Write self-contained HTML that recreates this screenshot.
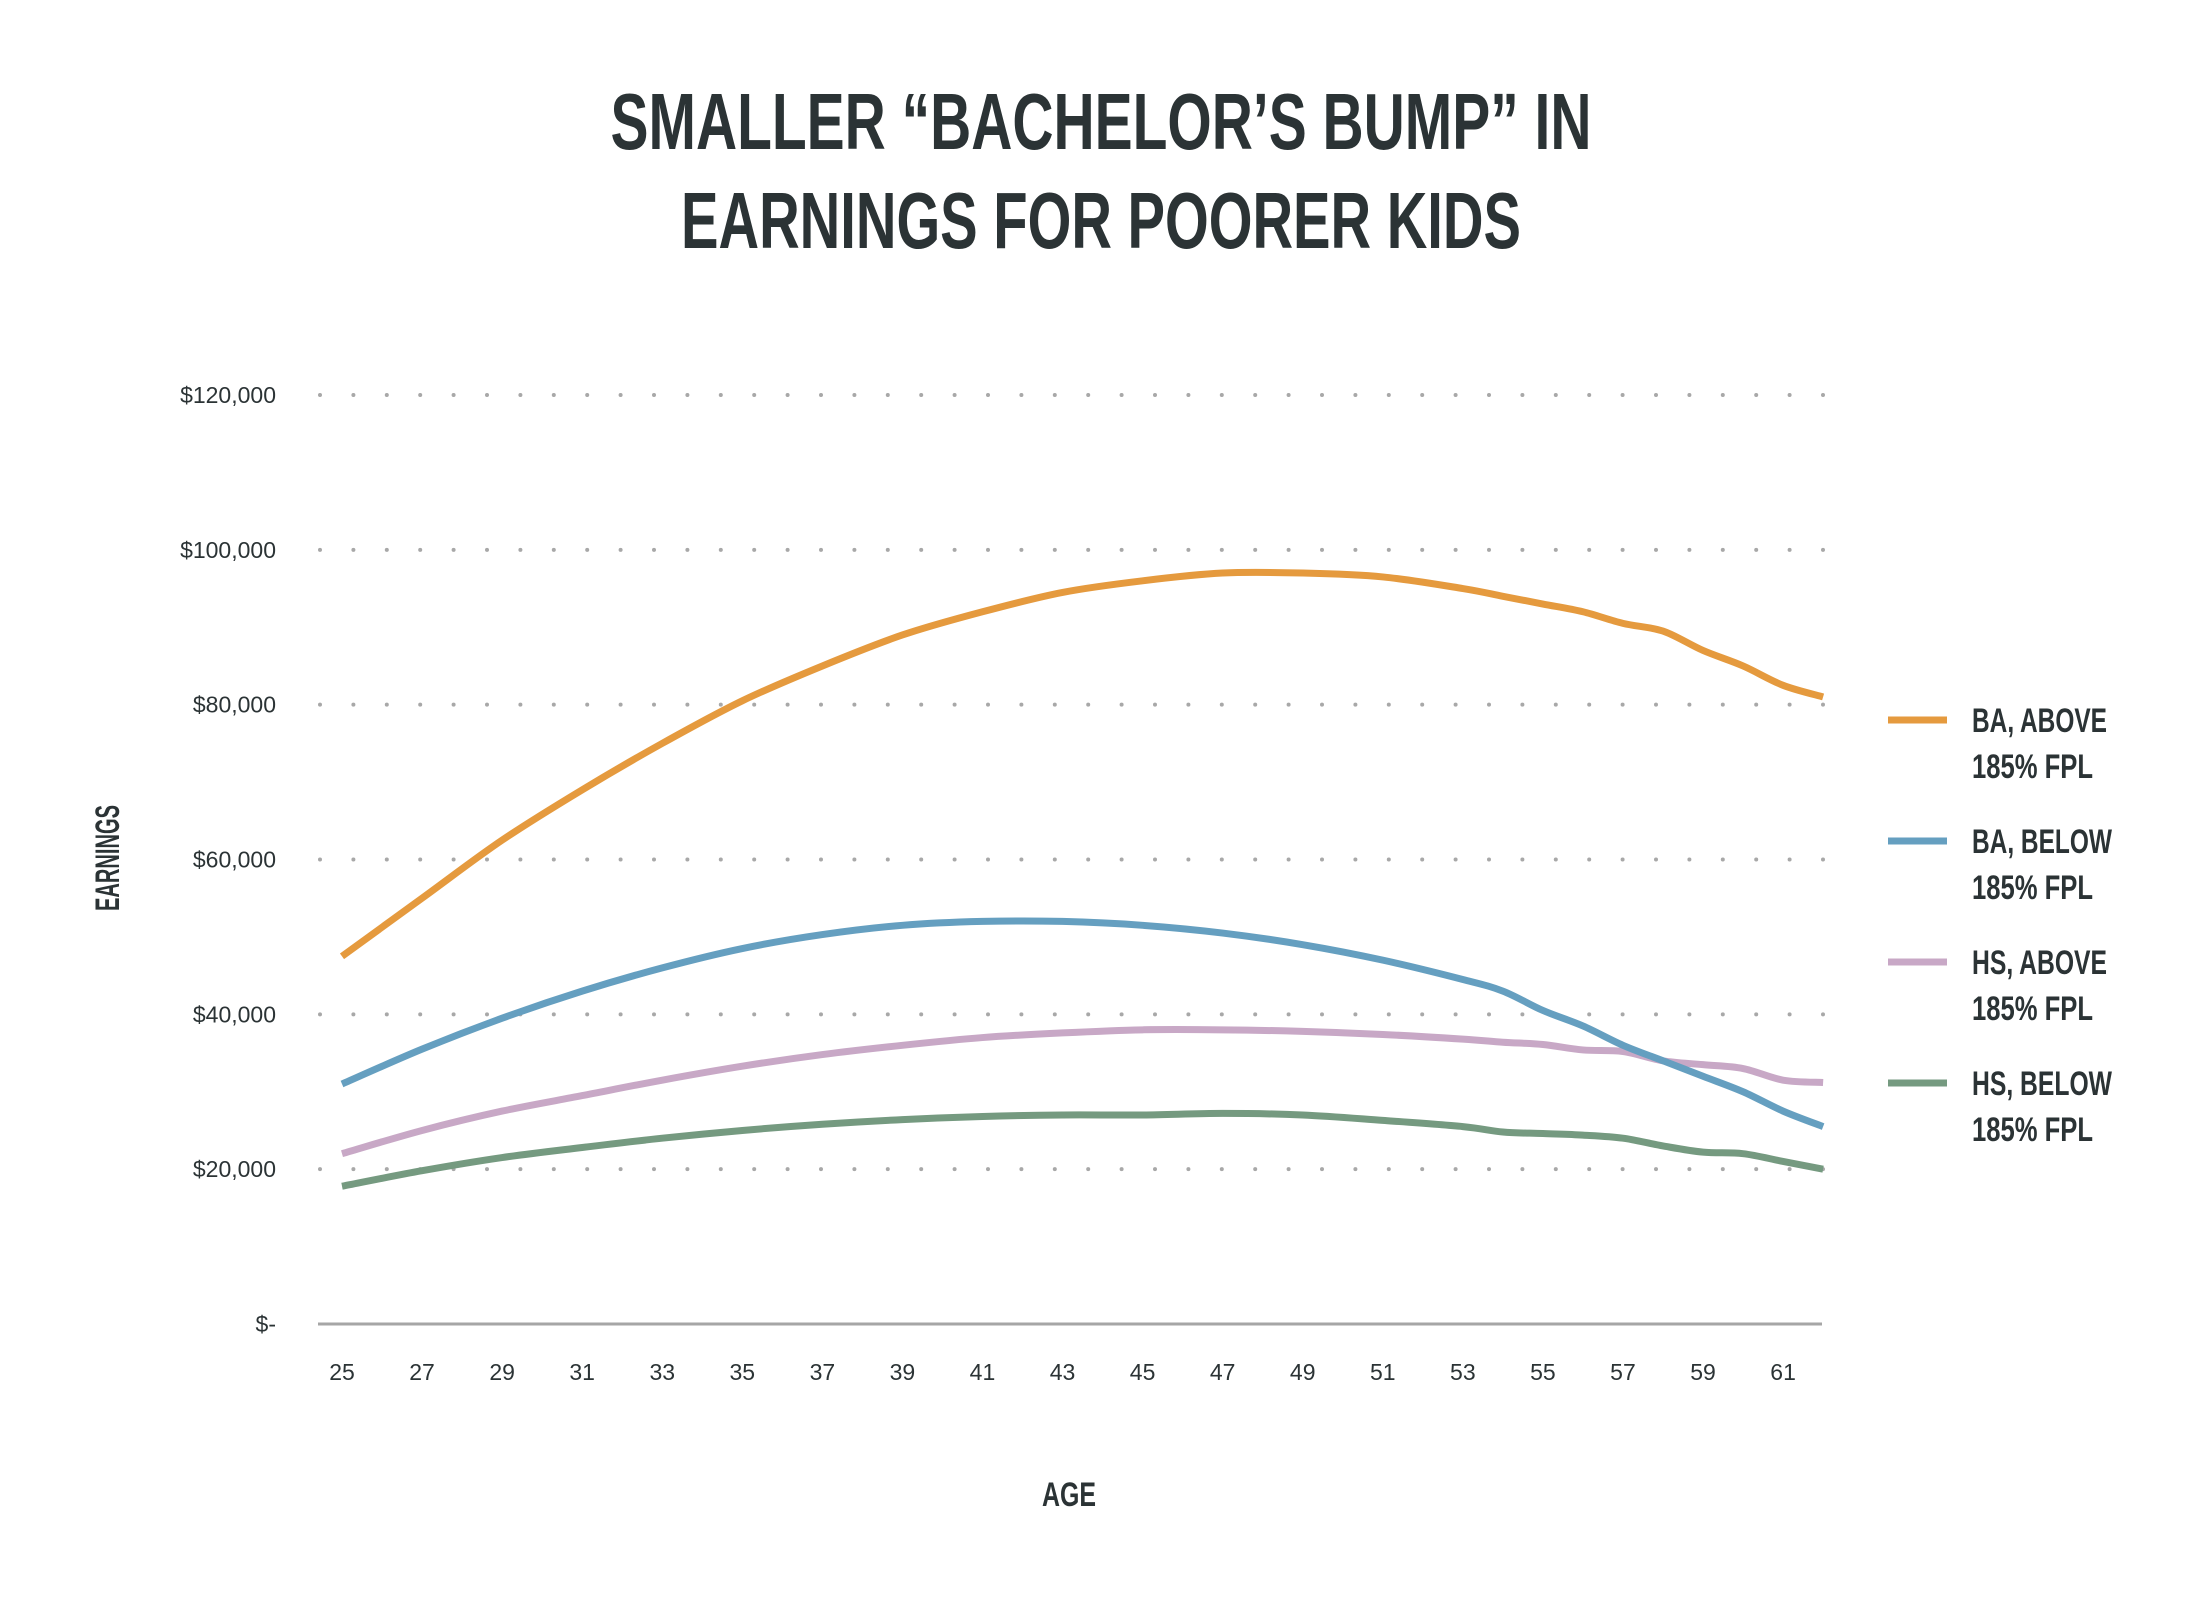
<!DOCTYPE html>
<html><head><meta charset="utf-8"><style>
html,body{margin:0;padding:0;background:#fff;}
svg{display:block;font-family:"Liberation Sans Narrow","Liberation Sans",sans-serif;}
</style></head><body>
<svg id="chart" width="2200" height="1600" viewBox="0 0 2200 1600" xmlns="http://www.w3.org/2000/svg">
<g fill="#2b3335" font-weight="bold" font-size="80" text-anchor="middle">
<text x="1101" y="149" textLength="981" lengthAdjust="spacingAndGlyphs">SMALLER “BACHELOR’S BUMP” IN</text>
<text x="1101" y="248" textLength="840" lengthAdjust="spacingAndGlyphs">EARNINGS FOR POORER KIDS</text>
</g>
<g id="grid"></g>
<g id="yticks"></g>
<g id="xticks"></g>
<line x1="318" x2="1822" y1="1324" y2="1324" stroke="#a6a6a6" stroke-width="3"/>
<g id="series"></g>
<text transform="translate(119,858) rotate(-90)" text-anchor="middle" font-size="34" font-weight="bold" fill="#2b3335" textLength="106" lengthAdjust="spacingAndGlyphs">EARNINGS</text>
<text x="1069" y="1506" text-anchor="middle" font-size="34" font-weight="bold" fill="#2b3335" textLength="54" lengthAdjust="spacingAndGlyphs">AGE</text>
<g id="legend"></g>
</svg>
<script>
const ages = [25,27,29,31,33,35,37,39,41,43,45,47,49,51,53,54,55,56,57,58,59,60,61,62];
const baAbove = [47.5,55,62.5,69,75,80.5,85,89,92,94.5,96,97,97,96.5,95,94,93,92,90.5,89.5,87,85,82.5,81];
const baBelow = [31,35.5,39.5,43,46,48.5,50.3,51.5,52,52,51.5,50.5,49,47,44.5,43,40.5,38.5,36,34,32,30,27.5,25.5];
const hsAbove = [22,25,27.5,29.5,31.5,33.3,34.8,36,37,37.6,38,38,37.8,37.4,36.8,36.4,36.1,35.4,35.2,34,33.5,33,31.5,31.2];
const hsBelow = [17.8,19.8,21.5,22.8,24,25,25.8,26.4,26.8,27,27,27.2,27,26.3,25.5,24.8,24.6,24.4,24,23,22.2,22,21,20];
const yTickValues = [0,20,40,60,80,100,120];
const yTickLabels = ["$-","$20,000","$40,000","$60,000","$80,000","$100,000","$120,000"];
const xTickAges = [25,27,29,31,33,35,37,39,41,43,45,47,49,51,53,55,57,59,61];
const seriesNames = ["BA, ABOVE","BA, BELOW","HS, ABOVE","HS, BELOW"];

const NS="http://www.w3.org/2000/svg";
const X = a => 342 + (a-25)*40.03;
const Y = v => 1324 - v*(1324-395)/120;
function mk(tag, attrs, parent){const e=document.createElementNS(NS,tag);for(const k in attrs)e.setAttribute(k,attrs[k]);parent.appendChild(e);return e;}

const grid=document.getElementById('grid'), yt=document.getElementById('yticks'), xt=document.getElementById('xticks');
yTickValues.forEach((v,i)=>{
  if(v>0){
    const l=mk('line',{x1:320,x2:1826,y1:Y(v),y2:Y(v),stroke:'#a8a8a8','stroke-width':4,'stroke-linecap':'round','stroke-dasharray':'0 33.4'},grid);
    
    
  }
  const t=mk('text',{x:276,y:Y(v)+8,'text-anchor':'end','font-size':23,fill:'#2b3335'},yt);
  t.textContent=yTickLabels[i];
  
  
});
xTickAges.forEach(a=>{
  const t=mk('text',{x:X(a),y:1380,'text-anchor':'middle','font-size':23,fill:'#2b3335'},xt);
  t.textContent=a;
  
  
});

function smooth(pts){
  let d='M'+pts[0][0]+','+pts[0][1];
  for(let i=0;i<pts.length-1;i++){
    const p0=pts[i-1]||pts[i],p1=pts[i],p2=pts[i+1],p3=pts[i+2]||p2;
    const c1=[p1[0]+(p2[0]-p0[0])/6,p1[1]+(p2[1]-p0[1])/6];
    const c2=[p2[0]-(p3[0]-p1[0])/6,p2[1]-(p3[1]-p1[1])/6];
    d+=' C'+c1[0]+','+c1[1]+' '+c2[0]+','+c2[1]+' '+p2[0]+','+p2[1];
  }
  return d;
}
const colors=['#e59a3e','#659fc0','#c8a8c6','#759a80'];
const allSeries=[baAbove,baBelow,hsAbove,hsBelow];
const keys=['ba-above','ba-below','hs-above','hs-below'];
const sg=document.getElementById('series');
[3,2,1,0].forEach(i=>{
  const pts=ages.map((a,j)=>[X(a),Y(allSeries[i][j])]);
  const p=mk('path',{d:smooth(pts),fill:'none',stroke:colors[i],'stroke-width':7,'stroke-linejoin':'round'},sg);
  
  
});
const lg=document.getElementById('legend');
seriesNames.forEach((n,i)=>{
  const y0=720+i*121;
  const g=mk('g',{},lg);
  
  
  mk('line',{x1:1888,x2:1947,y1:y0,y2:y0,stroke:colors[i],'stroke-width':7},g);
  const t1=mk('text',{x:1972,y:y0+12,'font-size':34,'font-weight':'bold',fill:'#2b3335'},g);
  t1.textContent=n;
  const t2=mk('text',{x:1972,y:y0+58,'font-size':34,'font-weight':'bold',fill:'#2b3335'},g);
  t2.textContent='185% FPL';
  t1.setAttribute('textLength', i===1||i===3 ? 140 : 135);
  t1.setAttribute('lengthAdjust','spacingAndGlyphs');
  t2.setAttribute('textLength',121);
  t2.setAttribute('lengthAdjust','spacingAndGlyphs');
});
</script>
</body></html>
